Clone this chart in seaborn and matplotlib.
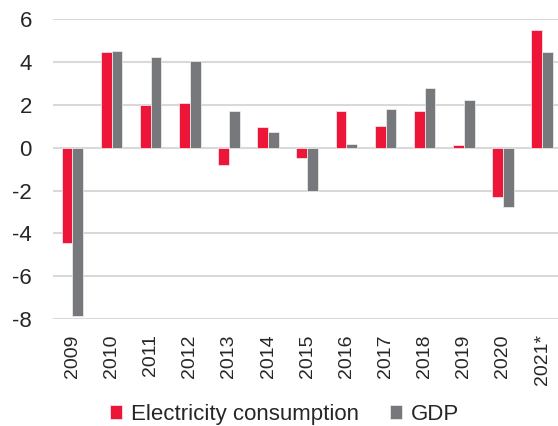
import pandas as pd
import matplotlib
matplotlib.use('Agg')
import matplotlib.pyplot as plt
import seaborn as sns

# values (% change y/y)
years = ['2009', '2010', '2011', '2012', '2013', '2014', '2015',
         '2016', '2017', '2018', '2019', '2020', '2021*']
electricity = [-4.47, 4.45, 1.98, 2.1, -0.8, 0.95, -0.5,
               1.69, 1.0, 1.73, 0.14, -2.28, 5.48]
gdp = [-7.85, 4.5, 4.23, 4.03, 1.73, 0.72, -2.0,
       0.15, 1.8, 2.8, 2.23, -2.75, 4.48]

df = pd.DataFrame({'Year': years, 'Electricity consumption': electricity, 'GDP': gdp})
long_df = df.melt(id_vars='Year', var_name='Series', value_name='Value')

sns.set_style('white')
plt.rcParams['font.family'] = ['Liberation Sans', 'DejaVu Sans']
plt.rcParams['axes.unicode_minus'] = False

fig = plt.figure(figsize=(5.58, 4.26), dpi=100)
ax = fig.add_axes([0.0946, 0.251, 0.912, 0.704])

sns.barplot(data=long_df, x='Year', y='Value', hue='Series',
            palette=['#ED1639', '#77787C'], saturation=1, width=0.55,
            edgecolor='#F2F2F2', linewidth=0.5, ax=ax)

ax.set_ylim(-8, 6)
ax.set_yticks(range(-8, 7, 2))
ax.set_xlim(-0.5, len(years) - 0.5)
ax.yaxis.grid(True, color='#D9D9D9', linewidth=1.5)
ax.set_axisbelow(True)
for s in ax.spines.values():
    s.set_visible(False)
ax.set_xlabel('')
ax.set_ylabel('')
ax.tick_params(axis='y', labelsize=16, length=0, pad=15)
ax.tick_params(axis='x', labelsize=14, length=0, pad=11, rotation=90)

ax.get_legend().remove()
handles, labels = ax.get_legend_handles_labels()
fig.legend(handles, labels, loc='center', bbox_to_anchor=(0.51, 0.027), ncol=2,
           frameon=False, fontsize=16, handlelength=0.55, handleheight=0.55,
           handletextpad=0.4, columnspacing=1.4, borderpad=0)

fig.savefig('out.png', dpi=100)
